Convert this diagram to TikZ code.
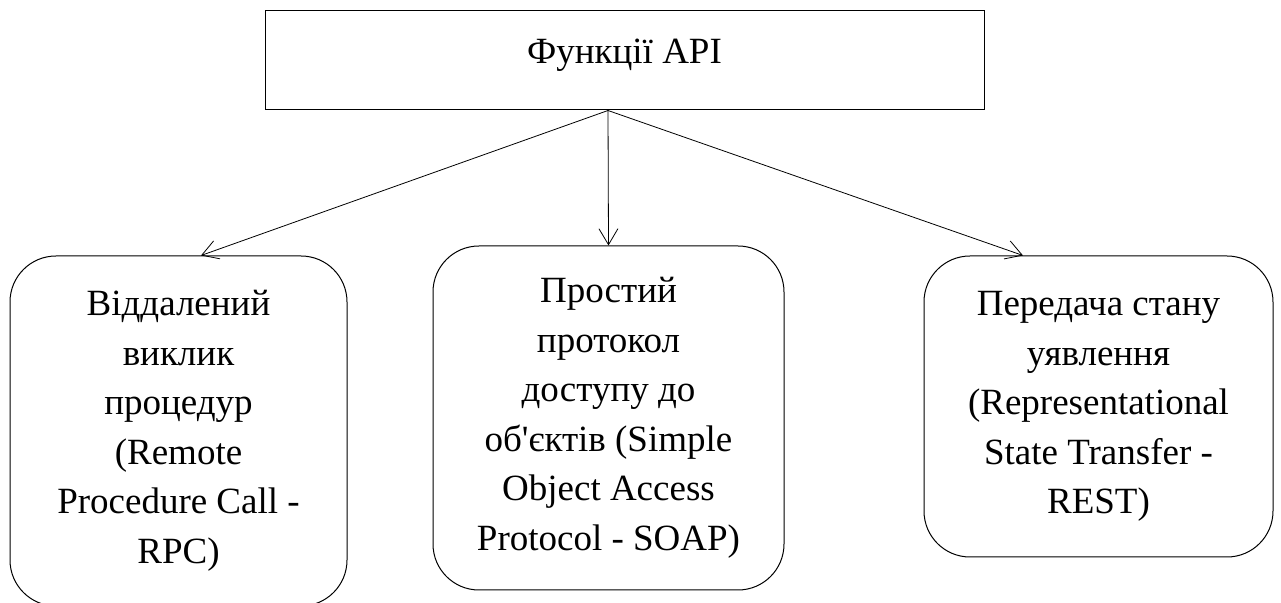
\documentclass[tikz,border=0pt]{standalone}
\usepackage{fontspec}
\setmainfont{Liberation Serif}
\usetikzlibrary{arrows.meta}

\begin{document}
\begin{tikzpicture}[x=.5pt, y=-.5pt,
	topbox/.style={draw, line width=.5pt, minimum width=359.5pt, minimum height=49.5pt, inner sep=0pt},
	kindbox/.style={draw, line width=.5pt, rounded corners=23pt, align=center, inner sep=0pt,
		font=\fontsize{18.5}{24.75}\selectfont},
	arr/.style={line width=.4pt, -{Straight Barb[length=8pt, width=9.5pt]}}]
	\clip (0,0) rectangle (1281,603);

	\node[topbox, label={[anchor=base, label distance=0pt, yshift=2.75pt, font=\fontsize{18.5}{24.75}\selectfont]center:Функції API}] (api) at (624.5,60.5) {};

	\node[kindbox, minimum width=168.5pt, minimum height=175pt] (rpc) at (178.5,431)
		{Віддалений\\виклик\\процедур\\(Remote\\Procedure Call -\\RPC)};
	\node[kindbox, minimum width=175.5pt, minimum height=172pt] (soap) at (608.5,418)
		{Простий\\протокол\\доступу до\\об\textquotesingle єктів (Simple\\Object Access\\Protocol - SOAP)};
	\node[kindbox, minimum width=174.5pt, minimum height=150.5pt] (rest) at (1098.5,406.5)
		{Передача стану\\уявлення\\(Representational\\State Transfer -\\REST)};

	\draw[arr] ([xshift=-8.25pt]api.south) to ([xshift=11.25pt]rpc.north);
	\draw[arr] ([xshift=-8.25pt]api.south) to (soap.north);
	\draw[arr] ([xshift=-8.25pt]api.south) to ([xshift=-37.75pt]rest.north);
\end{tikzpicture}
\end{document}
